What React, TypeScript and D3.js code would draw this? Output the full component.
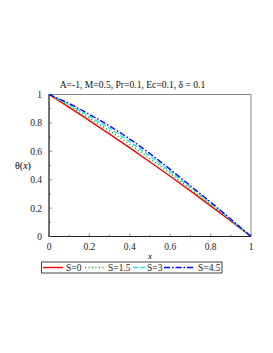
import React, { useEffect, useRef } from "react";
import * as d3 from "d3";

const xs = [0, 0.1, 0.2, 0.3, 0.4, 0.5, 0.6, 0.7, 0.8, 0.9, 1];
const s0 = [1, 0.909, 0.816, 0.721, 0.624, 0.525, 0.424, 0.321, 0.216, 0.109, 0];
const s15 = [1, 0.92, 0.834, 0.744, 0.649, 0.548, 0.444, 0.335, 0.226, 0.114, 0];
const s3 = [1, 0.928, 0.847, 0.762, 0.668, 0.566, 0.459, 0.346, 0.234, 0.118, 0];
const s45 = [1, 0.936, 0.86, 0.778, 0.686, 0.583, 0.473, 0.357, 0.242, 0.122, 0];
const seriesNames = ["S=0", "S=1.5", "S=3", "S=4.5"];
const xTicks = [0, 0.2, 0.4, 0.6, 0.8, 1];
const yTicks = [0, 0.2, 0.4, 0.6, 0.8, 1];
const title = "A=-1, M=0.5, Pr=0.1, Ec=0.1, δ = 0.1";

const styles = [
  { color: "#ff0000", dash: "", width: 1.4 },
  { color: "#00a000", dash: "1,2.5", width: 1.4 },
  { color: "#20e0e0", dash: "5,2.5", width: 1.4 },
  { color: "#0000ff", dash: "6,2,1.5,2", width: 1.4 },
];

export default function App() {
  const ref = useRef<SVGSVGElement>(null);
  useEffect(() => {
    const svg = d3.select(ref.current);
    svg.selectAll("*").remove();
    const font = "'Liberation Serif', 'DejaVu Serif', serif";
    const L = 49, R = 251, T = 94.5, B = 236.5;
    const x = d3.scaleLinear().domain([0, 1]).range([L, R]);
    const y = d3.scaleLinear().domain([0, 1]).range([B, T]);

    svg.append("rect").attr("x", L).attr("y", T).attr("width", R - L).attr("height", B - T)
      .attr("fill", "none").attr("stroke", "#888").attr("stroke-width", 1);
    svg.append("line").attr("x1", L).attr("x2", L).attr("y1", T).attr("y2", B).attr("stroke", "#222");
    svg.append("line").attr("x1", L).attr("x2", R).attr("y1", B).attr("y2", B).attr("stroke", "#222");

    const minor = d3.range(0, 1.0001, 0.1);
    minor.forEach((v) => {
      const major = Math.abs(Math.round(v * 5) - v * 5) < 1e-6;
      const len = major ? 3 : 2;
      svg.append("line").attr("x1", x(v)).attr("x2", x(v)).attr("y1", B).attr("y2", B - len).attr("stroke", "#444").attr("stroke-width", 0.6);
      svg.append("line").attr("x1", L).attr("x2", L + len).attr("y1", y(v)).attr("y2", y(v)).attr("stroke", "#444").attr("stroke-width", 0.6);
    });

    xTicks.forEach((v) => {
      svg.append("text").attr("x", x(v)).attr("y", B + 13).attr("text-anchor", "middle")
        .attr("font-family", font).attr("font-size", 9.5).attr("fill", "#222").text(String(v));
    });
    yTicks.forEach((v) => {
      svg.append("text").attr("x", L - 7).attr("y", y(v) + 3.5).attr("text-anchor", "end")
        .attr("font-family", font).attr("font-size", 9.5).attr("fill", "#222").text(String(v));
    });

    svg.append("text").attr("x", 150).attr("y", 259).attr("text-anchor", "middle")
      .attr("font-family", font).attr("font-size", 9).attr("font-style", "italic").text("x");
    const yl = svg.append("text").attr("x", 23).attr("y", 169).attr("text-anchor", "middle")
      .attr("font-family", font).attr("font-size", 10);
    yl.append("tspan").text("θ(");
    yl.append("tspan").attr("font-style", "italic").text("x");
    yl.append("tspan").text(")");

    svg.append("text").attr("x", 132.5).attr("y", 88).attr("text-anchor", "middle")
      .attr("font-family", font).attr("font-size", 9.6).attr("fill", "#111").text(title);

    const series = [s0, s15, s3, s45];
    const line = d3.line<number>().x((_, i) => x(xs[i])).y((d) => y(d)).curve(d3.curveMonotoneX);
    series.forEach((s, i) => {
      svg.append("path").attr("d", line(s)).attr("fill", "none")
        .attr("stroke", styles[i].color).attr("stroke-width", styles[i].width)
        .attr("stroke-dasharray", styles[i].dash);
    });

    svg.append("rect").attr("x", 41.5).attr("y", 262).attr("width", 180.5).attr("height", 11)
      .attr("fill", "none").attr("stroke", "#444").attr("stroke-width", 1);
    const items = [
      { x1: 43, x2: 63, tx: 66 },
      { x1: 85, x2: 105, tx: 108 },
      { x1: 133, x2: 145, tx: 147 },
      { x1: 164, x2: 195, tx: 198 },
    ];
    items.forEach((it, i) => {
      svg.append("line").attr("x1", it.x1).attr("x2", it.x2).attr("y1", 267.5).attr("y2", 267.5)
        .attr("stroke", styles[i].color).attr("stroke-width", styles[i].width)
        .attr("stroke-dasharray", styles[i].dash);
      svg.append("text").attr("x", it.tx).attr("y", 271).attr("font-family", font).attr("font-size", 9.5)
        .attr("fill", "#222").text(seriesNames[i]);
    });
  }, []);
  return (
    <svg ref={ref} width={273} height={353}
      style={{ position: "absolute", left: 0, top: 0, background: "#fff" }} />
  );
}
